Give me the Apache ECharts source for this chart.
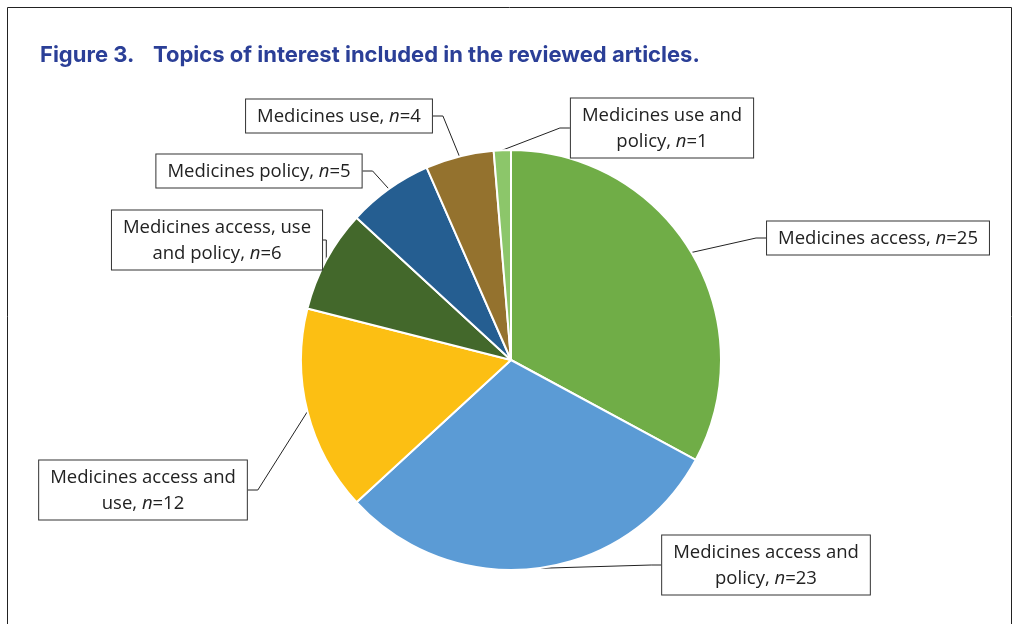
<!DOCTYPE html>
<html>
<head>
<meta charset="utf-8">
<script src="https://cdn.jsdelivr.net/npm/echarts@6/dist/echarts.min.js"></script>
<style>
  html, body { margin: 0; padding: 0; background: #fff; }
  #chart { width: 1014px; height: 624px; }
</style>
</head>
<body>
<div id="chart"></div>
<script>
// data
const topics = [
  'Medicines access',
  'Medicines access and\npolicy',
  'Medicines access and\nuse',
  'Medicines access, use\nand policy',
  'Medicines policy',
  'Medicines use',
  'Medicines use and\npolicy'
];
const counts = [25, 23, 12, 6, 5, 4, 1];
const colors = ['#70ad47', '#5b9bd5', '#fcbf13', '#43682b', '#255e91', '#94722e', '#8cc66a'];

// label box centres (layout only)
const labelPos = [
  [878, 238], [766, 565], [143, 490], [217, 240], [259, 171], [339, 116], [662, 128]
];

const chart = echarts.init(document.getElementById('chart'));

function labelText(name, n) {
  // split so the "n" is italic
  const parts = name.split('\n');
  const last = parts.pop();
  const head = parts.map(p => '{a|' + p + '}\n').join('');
  return head + '{a|' + last + ', }{i|n}{a|=' + n + '}';
}

const titleStyle = { fontFamily: 'Inter', fontWeight: 'bold', fontSize: 22, color: '#2b3f97' };

chart.setOption({
  animation: false,
  title: [
    { text: 'Figure 3.', left: 40, top: 44, padding: 0, textStyle: titleStyle },
    { text: 'Topics of interest included in the reviewed articles.', left: 153, top: 44, padding: 0, textStyle: titleStyle }
  ],
  graphic: [{
    type: 'rect',
    shape: { x: 7.5, y: 7.5, width: 1004, height: 700 },
    style: { fill: 'none', stroke: '#222', lineWidth: 1 },
    silent: true
  }],
  series: [{
    type: 'pie',
    center: [511, 360],
    radius: 210,
    startAngle: 90,
    clockwise: true,
    itemStyle: { borderColor: '#fff', borderWidth: 2 },
    data: topics.map((t, i) => ({
      name: t,
      value: counts[i],
      itemStyle: { color: colors[i] }
    })),
    label: {
      show: true,
      formatter: p => labelText(p.name, p.value),
      backgroundColor: '#fff',
      borderColor: '#333',
      borderWidth: 1,
      padding: [4, 11, 3, 11],
      align: 'center',
      rich: {
        a: { fontFamily: 'Open Sans', fontSize: 18.5, color: '#222', lineHeight: 26, align: 'center' },
        i: { fontFamily: 'Open Sans', fontSize: 18.5, fontStyle: 'italic', color: '#222', lineHeight: 26 }
      }
    },
    labelLine: {
      show: true,
      length: 10,
      length2: 10,
      lineStyle: { color: '#222', width: 1 }
    },
    labelLayout: params => ({
      x: labelPos[params.dataIndex][0],
      y: labelPos[params.dataIndex][1],
      align: 'center',
      verticalAlign: 'middle'
    })
  }]
});
</script>
</body>
</html>
